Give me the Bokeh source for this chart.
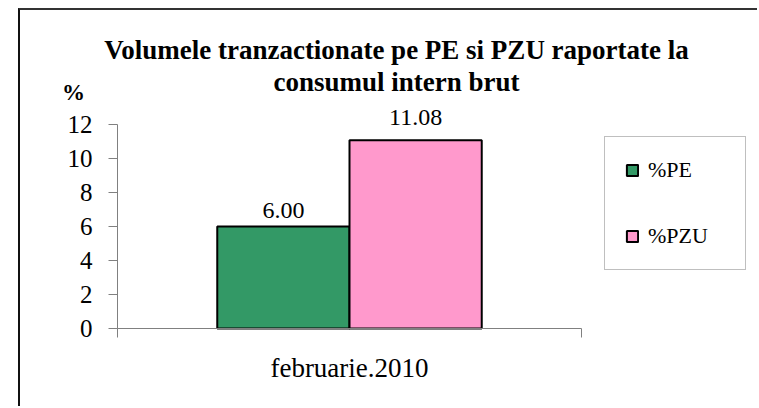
from bokeh.plotting import figure
from bokeh.models import (ColumnDataSource, Range1d, FixedTicker, Label, Legend,
                          LegendItem)
from bokeh.transform import dodge
from bokeh.embed import file_html
from bokeh.resources import INLINE

# ---- data ----
categories = ["februarie.2010"]
series_names = ["%PE", "%PZU"]
pe_values = [6.00]
pzu_values = [11.08]
y_ticks = [0, 2, 4, 6, 8, 10, 12]
title_lines = ["Volumele tranzactionate pe PE si PZU raportate la",
               "consumul intern brut"]
y_unit = "%"

# ---- layout (pixels inside the canvas) ----
FONT = "Liberation Serif"
colors = ["#339966", "#FF99CC"]
bar_w = 0.285
label_offsets = [16, 23]
TEXT_FIX = 8

W, H = 739, 398
AX_LEFT, AX_RIGHT = 97, 561      # category span in canvas px
AX_TOP, AX_BOTTOM = 114, 318     # value span in canvas px
n = len(categories)
ymax = max(y_ticks)
px_x = (AX_RIGHT - AX_LEFT) / n
px_y = (AX_BOTTOM - AX_TOP) / ymax


def cx(px):
    return (px - AX_LEFT) / px_x


def cy(py):
    return (AX_BOTTOM - py) / px_y


p = figure(width=W, height=H, output_backend="svg", toolbar_location=None,
           x_range=Range1d(cx(0), cx(W)), y_range=Range1d(cy(H), cy(0)),
           min_border=0)
p.styles = {"margin-left": "18px", "margin-top": "8px",
            "border-top": "2px solid #333333",
            "border-left": "2px solid #111111"}
p.outline_line_color = None
p.xgrid.visible = False
p.ygrid.visible = False
p.background_fill_color = "white"
p.border_fill_color = "white"

centers = [i + 0.5 for i in range(n)]
src = ColumnDataSource(dict(x=centers, pe=pe_values, pzu=pzu_values))

fields = ["pe", "pzu"]
offsets = [-bar_w / 2, bar_w / 2]
renderers = []
for f, off, c in zip(fields, offsets, colors):
    r = p.vbar(x=dodge("x", off, range=p.x_range), top=f, width=bar_w, bottom=0,
               source=src, fill_color=c, line_color="black", line_width=2)
    renderers.append(r)

# value labels
for vals, off, yo in zip([pe_values, pzu_values], offsets, label_offsets):
    for c0, v in zip(centers, vals):
        p.add_layout(Label(x=c0 + off, y=v, text=f"{v:.2f}", y_offset=yo,
                           text_align="center", text_baseline="alphabetic",
                           text_font=FONT, text_font_size="24px",
                           text_color="black"))

# axes (fixed at the value / category origin)
xa = p.xaxis[0]
xa.fixed_location = 0
xa.bounds = (0, n)
xa.ticker = FixedTicker(ticks=centers, minor_ticks=list(range(n + 1)))
xa.major_label_overrides = {c0: name for c0, name in zip(centers, categories)}
xa.major_tick_out = 0
xa.major_tick_in = 0
xa.minor_tick_out = 9
xa.minor_tick_in = 0
xa.axis_line_color = "#808080"
xa.minor_tick_line_color = "#808080"
xa.major_label_text_font = FONT
xa.major_label_text_font_size = "27px"
xa.major_label_text_color = "black"
xa.major_label_standoff = 15

ya = p.yaxis[0]
ya.fixed_location = 0
ya.bounds = (0, ymax)
ya.ticker = FixedTicker(ticks=y_ticks, minor_ticks=[])
ya.major_tick_out = 9
ya.major_tick_in = 0
ya.axis_line_color = "#808080"
ya.major_tick_line_color = "#808080"
ya.major_label_text_font = FONT
ya.major_label_text_font_size = "25px"
ya.major_label_text_color = "black"
ya.major_label_standoff = 16

# title and unit
for txt, base in zip(title_lines, [47.7, 79]):
    p.add_layout(Label(x=cx(376), y=cy(base - TEXT_FIX), text=txt,
                       text_align="center", text_baseline="alphabetic",
                       text_font=FONT, text_font_style="bold",
                       text_font_size="27px", text_color="black"))
p.add_layout(Label(x=cx(53), y=cy(87.5 - 6), text=y_unit, text_align="center",
                   text_baseline="alphabetic", text_font=FONT,
                   text_font_style="bold", text_font_size="23px",
                   text_color="black"))

legend = Legend(items=[LegendItem(label=s, renderers=[r])
                       for s, r in zip(series_names, renderers)],
                location=(584, H - 260))
legend.border_line_color = "#808080"
legend.border_line_width = 1
legend.background_fill_color = "white"
legend.background_fill_alpha = 1
legend.glyph_width = 14
legend.glyph_height = 14
legend.label_height = 14
legend.label_width = 77
legend.label_standoff = 9
legend.padding = 20
legend.spacing = 40
legend.margin = 0
legend.label_text_font = FONT
legend.label_text_font_size = "22px"
legend.label_text_color = "black"
p.add_layout(legend, "center")

open("out.html", "w").write(file_html(p, INLINE))
